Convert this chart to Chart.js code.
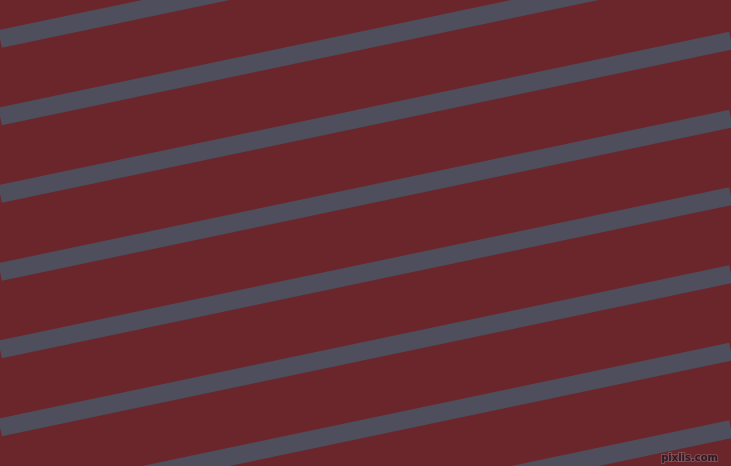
<!DOCTYPE html>
<html>
<head>
<meta charset="utf-8">
<script src="https://cdn.jsdelivr.net/npm/chart.js@4/dist/chart.umd.min.js"></script>
<style>
  html, body { margin: 0; padding: 0; background: #6b262c; overflow: hidden; }
  #wrap { width: 731px; height: 466px; }
</style>
</head>
<body>
<div id="wrap"><canvas id="c" width="731" height="466"></canvas></div>
<script>
// ========== DATA ==========
// stripe y positions (pixel units of the 731x466 field) at the left and right edge
const xEnds = [0, 731];
const stripeLeft = [39, 116.5, 194, 272, 349.5, 427.5, 505, 582.5];
const stripeRight = [-114.5, -37, 40.5, 118.5, 196, 274, 351.5, 429];
const watermark = 'pixlis.com';

const BG = '#6b262c';
const STRIPE = '#4f4e5c';

// background + watermark
const backdrop = {
  id: 'backdrop',
  beforeDraw(chart) {
    const ctx = chart.ctx;
    ctx.save();
    ctx.fillStyle = BG;
    ctx.fillRect(0, 0, chart.width, chart.height);
    ctx.restore();
  },
  afterDraw(chart) {
    const ctx = chart.ctx;
    ctx.save();
    ctx.font = 'bold 10px "DejaVu Sans"';
    ctx.textAlign = 'right';
    ctx.textBaseline = 'alphabetic';
    ctx.lineWidth = 2;
    ctx.strokeStyle = 'rgba(150,110,120,0.5)';
    ctx.strokeText(watermark, 718, 461);
    ctx.fillStyle = '#2b1a22';
    ctx.fillText(watermark, 718, 461);
    ctx.restore();
  }
};

const datasets = stripeLeft.map((y0, i) => ({
  data: [{ x: xEnds[0], y: y0 }, { x: xEnds[1], y: stripeRight[i] }],
  borderColor: STRIPE,
  borderWidth: 18,
  pointRadius: 0,
  tension: 0,
  fill: false
}));

new Chart(document.getElementById('c'), {
  type: 'line',
  data: { datasets: datasets },
  options: {
    responsive: false,
    animation: false,
    devicePixelRatio: 1,
    layout: { padding: 0 },
    plugins: { legend: { display: false }, tooltip: { enabled: false } },
    scales: {
      x: { type: 'linear', min: 0, max: 731, display: false },
      y: { type: 'linear', min: 0, max: 466, reverse: true, display: false }
    }
  },
  plugins: [backdrop]
});
</script>
</body>
</html>
